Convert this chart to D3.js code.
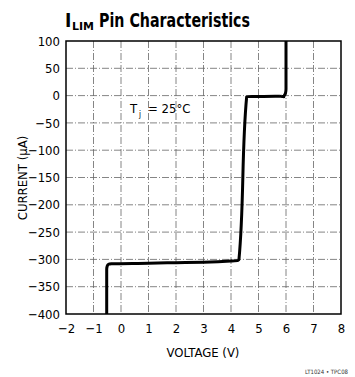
<!DOCTYPE html>
<html><head><meta charset="utf-8">
<script src="https://cdn.jsdelivr.net/npm/d3@7"></script>
<style>body{margin:0;background:#fff}svg{display:block}</style>
</head><body><svg id="c" width="355" height="377"></svg>
<script>
const xTicks = [-2,-1,0,1,2,3,4,5,6,7,8];
const yTicks = [100,50,0,-50,-100,-150,-200,-250,-300,-350,-400];
const curveV = [-0.52,-0.52,-0.50,-0.45,-0.35,1,2,3,4,4.25,4.29,4.57,5.8,5.92,5.98,6.0,6.0];
const curveI = [-400,-318,-312,-309,-308,-307,-306,-305,-303,-302,-300,-2,-1,-2,4,12,100];

const svg = d3.select("#c");
const m = {l:66, r:341, t:41, b:314};
const x = d3.scaleLinear().domain([-2,8]).range([m.l,m.r]);
const y = d3.scaleLinear().domain([-400,100]).range([m.b,m.t]);
const font = "'DejaVu Sans Condensed','Liberation Sans Narrow','Liberation Sans',Arial,sans-serif";

// grid
const g = svg.append("g");
g.selectAll(".gx").data(xTicks.slice(1,-1)).join("line")
 .attr("x1",d=>x(d)).attr("x2",d=>x(d)).attr("y1",m.t).attr("y2",m.b)
 .attr("stroke","#666").attr("stroke-width",0.8).attr("stroke-dasharray","7,2,1,2");
g.selectAll(".gy").data(yTicks.slice(1,-1)).join("line")
 .attr("y1",d=>y(d)).attr("y2",d=>y(d)).attr("x1",m.l).attr("x2",m.r)
 .attr("stroke","#666").attr("stroke-width",0.8).attr("stroke-dasharray","7,2,1,2");

// frame
svg.append("rect").attr("x",m.l).attr("y",m.t).attr("width",m.r-m.l).attr("height",m.b-m.t)
 .attr("fill","none").attr("stroke","#000").attr("stroke-width",1.5);

// axes tick labels
const ax = svg.append("g").attr("transform",`translate(0,${m.b})`)
 .call(d3.axisBottom(x).tickValues(xTicks).tickSize(0).tickPadding(10).tickFormat(d=>d<0?"\u2212"+Math.abs(d):d));
ax.select(".domain").remove();
ax.selectAll("text").attr("font-family",font).attr("font-size",13).attr("fill","#000");
const ay = svg.append("g").attr("transform",`translate(${m.l},0)`)
 .call(d3.axisLeft(y).tickValues(yTicks).tickSize(0).tickPadding(6).tickFormat(d=>d<0?"\u2212"+Math.abs(d):d));
ay.select(".domain").remove();
ay.selectAll("text").attr("font-family",font).attr("font-size",13).attr("fill","#000");

// curve
const pts = curveV.map((v,i)=>[v,curveI[i]]);
svg.append("path").datum(pts)
 .attr("d",d3.line().x(d=>x(d[0])).y(d=>y(d[1])).curve(d3.curveMonotoneY))
 .attr("fill","none").attr("stroke","#000").attr("stroke-width",3).attr("stroke-linejoin","round");

// title (separate pieces)
const tf = s=>svg.append("text").attr("font-family",font).attr("font-weight","bold").attr("fill","#000").text(s);
tf("I").attr("x",65).attr("y",27).attr("font-size",19);
tf("LIM").attr("x",72).attr("y",30).attr("font-size",11).attr("textLength",22).attr("lengthAdjust","spacingAndGlyphs");
tf("Pin Characteristics").attr("x",99).attr("y",27).attr("font-size",19)
 .attr("textLength",151).attr("lengthAdjust","spacingAndGlyphs");

// annotation
svg.append("text").attr("x",130).attr("y",113).attr("font-family",font).attr("font-size",13).attr("fill","#000").text("T");
svg.append("text").attr("x",139).attr("y",117).attr("font-family",font).attr("font-size",8).attr("fill","#000").text("j");
svg.append("text").attr("x",148).attr("y",113).attr("font-family",font).attr("font-size",13).attr("fill","#000").text("= 25\u00B0C");

// axis titles
svg.append("text").attr("x",203).attr("y",357).attr("text-anchor","middle")
 .attr("font-family",font).attr("font-size",13).attr("fill","#000").text("VOLTAGE (V)");
svg.append("text").attr("transform","translate(27,178) rotate(-90)").attr("text-anchor","middle")
 .attr("font-family",font).attr("font-size",13).attr("fill","#000").text("CURRENT (\u00B5A)");
svg.append("text").attr("x",348).attr("y",374).attr("text-anchor","end")
 .attr("font-family",font).attr("font-size",6).attr("fill","#333").text("LT1024 \u2022 TPC08");
</script></body></html>
